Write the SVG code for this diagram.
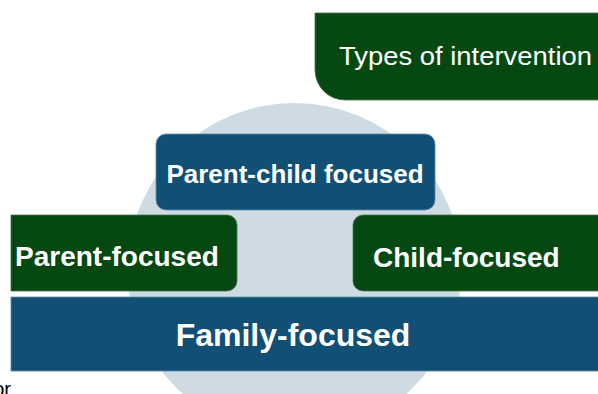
<svg xmlns="http://www.w3.org/2000/svg" width="598" height="394" viewBox="0 0 598 394">
  <style>
    .green { fill: #064812; stroke: #4d6e52; stroke-width: 0.8; }
    .blue { fill: #114f74; stroke: #5f8aa6; stroke-width: 0.8; }
    .lbl { font-family: "Liberation Sans", Arial, sans-serif; fill: #ffffff; }
    .b { font-weight: bold; }
  </style>
  <rect width="598" height="394" fill="#ffffff"/>
  <g id="background-circle">
    <circle cx="294.5" cy="270" r="167" fill="#cfdbe3"/>
  </g>
  <g id="connectors"></g>
  <g id="types-of-intervention">
    <path class="green" d="M315,13 H600 V100 H345 A30,30 0 0 1 315,70 Z"/>
    <text class="lbl" x="339" y="65" font-size="26.5" textLength="253" lengthAdjust="spacingAndGlyphs">Types of intervention</text>
  </g>
  <g id="parent-child-focused">
    <rect class="blue" x="156" y="134" width="279" height="76" rx="10"/>
    <text class="lbl b" x="295" y="183" font-size="26" text-anchor="middle">Parent-child focused</text>
  </g>
  <g id="parent-focused">
    <path class="green" d="M11,215 H227 A10,10 0 0 1 237,225 V281 A10,10 0 0 1 227,291 H11 Z"/>
    <text class="lbl b" x="15" y="266" font-size="28">Parent-focused</text>
  </g>
  <g id="child-focused">
    <path class="green" d="M600,215 H363 A10,10 0 0 0 353,225 V281 A10,10 0 0 0 363,291 H600 Z"/>
    <text class="lbl b" x="373" y="267" font-size="28">Child-focused</text>
  </g>
  <g id="family-focused">
    <rect class="blue" x="11" y="297" width="600" height="74"/>
    <text class="lbl b" x="293" y="346" font-size="32" text-anchor="middle">Family-focused</text>
  </g>
  <text x="11" y="396" font-size="20" text-anchor="end" font-family="Liberation Sans, Arial, sans-serif" fill="#000000">or</text>
</svg>
